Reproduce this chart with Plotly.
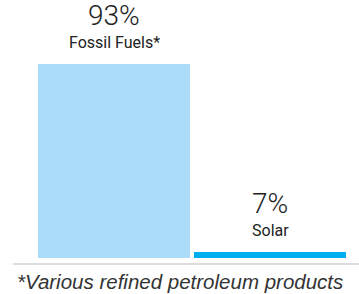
import plotly.graph_objects as go

categories = ["Fossil Fuels*", "Solar"]
percent_labels = [93, 7]
bar_heights = [93, 2.9]  # bar heights as drawn in the picture
bar_colors = ["#abdcf8", "#00aeef"]
footnote = "*Various refined petroleum products"

x_pos = [0, 1]

fig = go.Figure()
fig.add_trace(go.Bar(
    x=x_pos, y=bar_heights, width=0.974,
    marker=dict(color=bar_colors, line=dict(width=0)),
    hoverinfo="skip", showlegend=False,
))

for xi, h, p, c in zip(x_pos, bar_heights, percent_labels, categories):
    fig.add_annotation(x=xi, y=h, xref="x", yref="y", text=c,
                       showarrow=False, yanchor="bottom", yshift=10,
                       font=dict(family="Roboto", size=16, color="#222222"))
    fig.add_annotation(x=xi, y=h, xref="x", yref="y", text=f"{p}%",
                       showarrow=False, yanchor="bottom", yshift=30,
                       font=dict(family="Roboto", size=28, color="#222222", weight=300))

fig.add_annotation(x=2/346, y=0, xref="paper", yref="paper", text=footnote,
                   showarrow=False, xanchor="left", yanchor="top", yshift=-5,
                   font=dict(family="Liberation Sans", size=20.5, color="#333333", style="italic"))

fig.update_layout(
    width=359, height=294,
    margin=dict(l=13, r=0, t=0, b=31),
    paper_bgcolor="white", plot_bgcolor="white",
    xaxis=dict(range=[-0.6474, 1.5705], showticklabels=False, showgrid=False,
               zeroline=False, showline=True, linecolor="#dddddd", linewidth=2,
               ticks=""),
    yaxis=dict(range=[-2.4, 123.7], visible=False),
    bargap=0,
)

fig.write_html("out.html", config={"displayModeBar": False},
               post_script="document.body.style.margin='0';document.body.style.overflow='hidden';")
